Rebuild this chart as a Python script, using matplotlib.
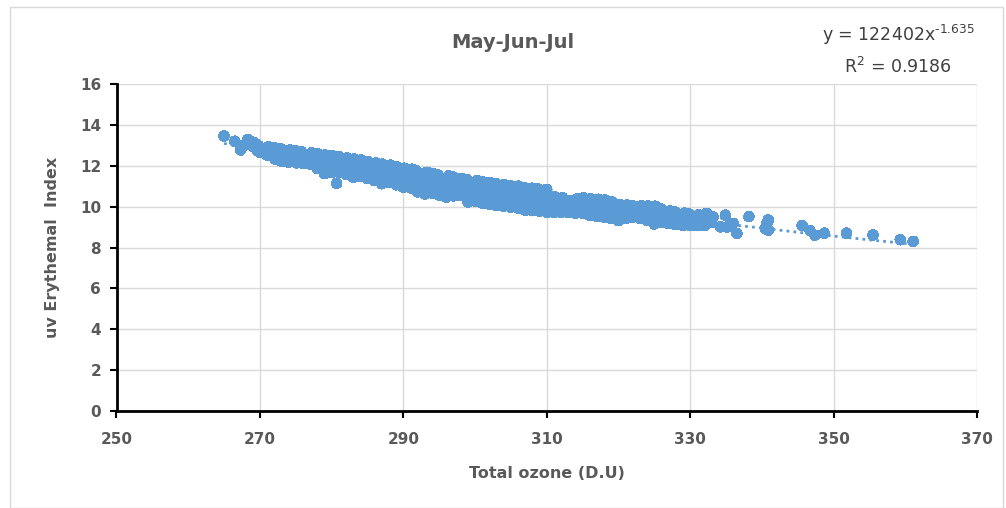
import numpy as np
import matplotlib
matplotlib.use("Agg")
import matplotlib.pyplot as plt
from matplotlib.patches import Rectangle

# Datos (ozono total en D.U, índice UV eritemático)
ozone = [
    265.0, 266.5, 267.3, 268.3, 267.8, 269.0, 269.1, 269.6, 269.5,
    270.0, 270.2, 269.8,
    271.0, 270.8, 271.2,
    272.1, 271.9, 272.0,
    273.0, 273.2, 272.9,
    274.0, 273.8, 274.2,
    275.1, 274.9, 275.0,
    276.0, 276.2, 275.8,
    277.0, 276.9, 277.2,
    278.0, 278.2, 277.9, 278.1,
    279.0, 278.8, 279.2, 279.1,
    280.0, 280.2, 279.9, 280.1, 280.7,
    281.0, 280.8, 281.2, 281.1,
    282.0, 282.2, 281.9, 282.1,
    283.0, 282.9, 283.2, 283.1,
    284.0, 284.2, 283.8, 284.1,
    285.0, 284.9, 285.2, 285.1,
    286.0, 286.1, 285.8, 286.2,
    287.0, 286.9, 287.2, 287.1,
    288.0, 288.1, 287.9, 288.2,
    289.0, 288.8, 289.2, 289.1,
    290.0, 290.2, 289.9, 290.1,
    291.0, 290.8, 291.1, 291.2,
    292.0, 291.9, 292.2, 292.1, 291.8,
    293.0, 293.2, 292.9, 293.1, 293.3,
    294.0, 294.1, 293.8, 294.2, 294.0,
    295.0, 294.9, 295.2, 295.1, 294.8,
    296.0, 296.2, 295.9, 296.1, 296.3,
    297.0, 296.8, 297.2, 297.1, 296.9,
    298.0, 298.2, 297.9, 298.1,
    299.0, 298.9, 299.2, 299.1, 298.8,
    300.0, 300.2, 299.9, 300.1, 300.3,
    301.0, 300.8, 301.2, 301.1, 300.9,
    302.0, 302.1, 301.9, 302.2, 302.0,
    303.0, 302.8, 303.1, 303.2, 302.9,
    304.0, 304.2, 303.9, 304.1, 304.0,
    305.0, 304.8, 305.2, 305.1, 304.9,
    306.0, 306.1, 305.9, 306.2, 306.0,
    307.0, 306.8, 307.1, 307.2, 306.9,
    308.0, 308.2, 307.9, 308.1, 308.0,
    309.0, 308.9, 309.2, 309.1, 308.8,
    310.0, 310.2, 309.9, 310.1, 310.0,
    311.0, 310.8, 311.2, 311.1,
    312.0, 312.1, 311.9, 312.2,
    313.0, 312.8, 313.2,
    314.0, 314.1, 313.9, 314.2,
    315.0, 314.8, 315.2, 315.1,
    316.0, 316.2, 315.9, 316.1,
    317.0, 316.8, 317.1, 317.2,
    318.0, 318.2, 317.9, 318.1,
    319.0, 318.8, 319.2, 319.1,
    320.0, 320.1, 319.9, 320.2,
    321.0, 320.8, 321.2,
    322.0, 322.1, 321.9,
    323.0, 322.8, 323.2,
    324.0, 324.2, 323.9, 324.1,
    325.0, 324.8, 325.2, 325.1,
    326.0, 326.1, 325.9,
    327.0, 326.8, 327.2,
    328.0, 328.1, 327.9,
    329.0, 328.8, 329.2,
    330.0, 330.1, 329.9,
    331.0, 330.8, 331.2,
    332.0, 332.3, 331.9, 332.3,
    333.0, 333.2, 334.2, 334.9, 335.1, 336.0, 336.5,
    338.2, 340.9, 340.5, 340.9, 340.7,
    345.6, 346.7, 347.4, 348.7, 351.8, 355.5, 359.3, 361.1,
]

uvi = [
    13.45, 13.2, 12.77, 13.28, 13.0, 12.95, 13.15, 12.75, 13.05,
    12.66, 12.85, 12.98,
    12.52, 12.75, 12.93,
    12.32, 12.6, 12.88,
    12.22, 12.5, 12.83,
    12.17, 12.45, 12.78,
    12.14, 12.42, 12.73,
    12.12, 12.4, 12.68,
    12.09, 12.36, 12.63,
    11.87, 12.1, 12.34, 12.58,
    11.62, 11.9, 12.2, 12.53,
    11.67, 11.95, 12.22, 12.5, 11.14,
    11.67, 11.92, 12.18, 12.43,
    11.57, 11.85, 12.1, 12.38,
    11.44, 11.72, 12.0, 12.33,
    11.47, 11.75, 12.0, 12.28,
    11.37, 11.65, 11.92, 12.2,
    11.27, 11.55, 11.85, 12.13,
    11.12, 11.42, 11.75, 12.08,
    11.17, 11.45, 11.75, 12.03,
    11.07, 11.35, 11.65, 11.95,
    10.95, 11.25, 11.55, 11.88,
    10.92, 11.22, 11.52, 11.83,
    10.72, 11.0, 11.28, 11.52, 11.76,
    10.62, 10.9, 11.15, 11.42, 11.68,
    10.67, 10.95, 11.2, 11.42, 11.63,
    10.57, 10.85, 11.1, 11.33, 11.56,
    10.46, 10.72, 11.0, 11.25, 11.5,
    10.52, 10.8, 11.05, 11.25, 11.46,
    10.54, 10.8, 11.05, 11.38,
    10.22, 10.5, 10.78, 11.05, 11.33,
    10.27, 10.55, 10.8, 11.05, 11.28,
    10.17, 10.45, 10.72, 11.0, 11.24,
    10.12, 10.4, 10.65, 10.92, 11.18,
    10.05, 10.32, 10.6, 10.88, 11.13,
    10.02, 10.3, 10.56, 10.82, 11.08,
    9.97, 10.25, 10.5, 10.78, 11.03,
    9.92, 10.2, 10.45, 10.72, 11.0,
    9.82, 10.1, 10.38, 10.65, 10.93,
    9.8, 10.08, 10.35, 10.62, 10.9,
    9.77, 10.05, 10.32, 10.6, 10.86,
    9.72, 10.0, 10.28, 10.56, 10.84,
    9.72, 9.98, 10.22, 10.48,
    9.72, 9.95, 10.2, 10.43,
    9.72, 10.0, 10.28,
    9.67, 9.92, 10.15, 10.38,
    9.67, 9.92, 10.18, 10.43,
    9.57, 9.85, 10.1, 10.38,
    9.52, 9.8, 10.08, 10.36,
    9.48, 9.75, 10.05, 10.33,
    9.42, 9.7, 9.98, 10.23,
    9.32, 9.6, 9.85, 10.1,
    9.42, 9.75, 10.08,
    9.48, 9.78, 10.06,
    9.42, 9.72, 10.04,
    9.32, 9.55, 9.8, 10.03,
    9.15, 9.45, 9.75, 10.02,
    9.22, 9.55, 9.88,
    9.17, 9.48, 9.78,
    9.12, 9.42, 9.73,
    9.07, 9.38, 9.68,
    9.07, 9.35, 9.63,
    9.07, 9.35, 9.6,
    9.07, 9.3, 9.56, 9.67,
    9.22, 9.5, 9.01, 9.58, 9.0, 9.18, 8.69,
    9.51, 9.35, 8.93, 8.85, 9.18,
    9.08, 8.84, 8.6, 8.7, 8.7, 8.62, 8.38, 8.3,
]

x_ticks = [250, 270, 290, 310, 330, 350, 370]
y_ticks = [0, 2, 4, 6, 8, 10, 12, 14, 16]

blue = "#5b9bd5"
grey_txt = "#595959"

x = np.array(ozone)
y = np.array(uvi)

# Ajuste potencial (como la línea de tendencia de Excel)
b, log_a = np.polyfit(np.log(x), np.log(y), 1)
xf = np.linspace(x.min(), x.max(), 200)
yf = np.exp(log_a) * xf ** b

W, H = 1006, 508
fig = plt.figure(figsize=(W / 100, H / 100), dpi=100)
fig.patches.append(Rectangle((10 / W, 0), 993 / W, 1 - 7 / H, transform=fig.transFigure,
                             fill=False, edgecolor="#d9d9d9", linewidth=1))

ax = fig.add_axes([116.5 / W, 1 - 411 / H, (977 - 116.5) / W, (411 - 84) / H])
ax.plot(xf, yf, color=blue, linestyle=(0, (1, 1.5)), linewidth=2, zorder=2)
# capa sin antialias para tapar las costuras, luego la capa suave
ax.scatter(x, y, s=58, color=blue, edgecolors="none", antialiased=False, zorder=3)
ax.scatter(x, y, s=62, color=blue, edgecolors="none", zorder=4)

ax.set_xlim(250, 370)
ax.set_ylim(0, 16)
ax.set_xticks(x_ticks)
ax.set_yticks(y_ticks)
ax.grid(True, color="#d9d9d9", linewidth=1)
ax.set_axisbelow(True)
for side in ["top", "right"]:
    ax.spines[side].set_visible(False)
for side in ["left", "bottom"]:
    ax.spines[side].set_linewidth(2)
    ax.spines[side].set_color("black")
ax.tick_params(direction="out", length=5, width=1.5, color="black",
               labelsize=11, labelcolor=grey_txt, pad=6)
ax.tick_params(axis="x", pad=10)
for lab in ax.get_xticklabels() + ax.get_yticklabels():
    lab.set_fontweight("bold")

fig.text(513 / W, 1 - 42 / H, "May-Jun-Jul", ha="center", va="center",
         fontsize=14, fontweight="bold", color=grey_txt)
fig.text(547 / W, 1 - 474 / H, "Total ozone (D.U)", ha="center", va="center",
         fontsize=11.5, fontweight="bold", color=grey_txt)
fig.text(53 / W, 1 - 247 / H, "uv Erythemal  Index", ha="center", va="center",
         rotation=90, fontsize=11.5, fontweight="bold", color=grey_txt)

fig.text(898 / W, 1 - 35 / H, "y = 122402x$^{\u2010 1.635}$", ha="center", va="center",
         fontsize=12.5, color="#404040")
fig.text(898 / W, 1 - 67 / H, "R$^{2}$ = 0.9186", ha="center", va="center",
         fontsize=12.5, color="#404040")

fig.savefig("out.png", dpi=100)
